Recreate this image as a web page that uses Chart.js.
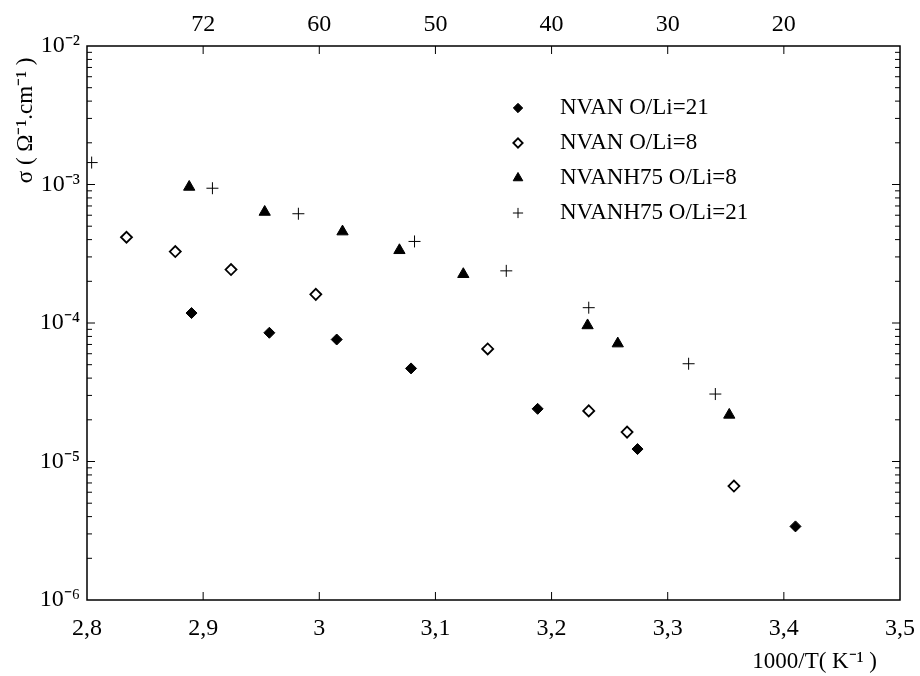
<!DOCTYPE html>
<html>
<head>
<meta charset="utf-8">
<script src="https://cdn.jsdelivr.net/npm/chart.js@4/dist/chart.umd.min.js"></script>
<style>
  body { margin: 0; background: #fff; }
  #wrap { width: 920px; height: 676px; }
</style>
</head>
<body>
<div id="wrap"><canvas id="chart"></canvas></div>
<script>
// Data (x = 1000/T in K^-1, y = conductivity in S/cm)
const nvan21X = [2.890, 2.957, 3.015, 3.079, 3.188, 3.274, 3.410];
const nvan21Y = [1.18e-4, 8.5e-5, 7.6e-5, 4.7e-5, 2.4e-5, 1.23e-5, 3.4e-6];

const nvan8X = [2.834, 2.876, 2.924, 2.997, 3.145, 3.232, 3.265, 3.357];
const nvan8Y = [4.16e-4, 3.28e-4, 2.43e-4, 1.61e-4, 6.5e-5, 2.32e-5, 1.63e-5, 6.65e-6];

const nvanh8X = [2.888, 2.953, 3.020, 3.069, 3.124, 3.231, 3.257, 3.353];
const nvanh8Y = [9.6e-4, 6.33e-4, 4.57e-4, 3.35e-4, 2.25e-4, 9.6e-5, 7.1e-5, 2.17e-5];

const nvanh21X = [2.804, 2.908, 2.982, 3.082, 3.161, 3.232, 3.318, 3.341];
const nvanh21Y = [1.44e-3, 9.4e-4, 6.15e-4, 3.88e-4, 2.38e-4, 1.29e-4, 5.08e-5, 3.07e-5];

const seriesNames = ['NVAN O/Li=21', 'NVAN O/Li=8', 'NVANH75 O/Li=8', 'NVANH75 O/Li=21'];

// Axis ticks
const yDecades = [-6, -5, -4, -3, -2];
const yTickLabels = ['10\u207B\u2076', '10\u207B\u2075', '10\u207B\u2074', '10\u207B\u00B3', '10\u207B\u00B2'];
const yMinorSteps = [2, 3, 4, 5, 6, 7, 8, 9];
const topTickPos = [2.9, 3.0, 3.1, 3.2, 3.3, 3.4];
const topTickLabels = ['72', '60', '50', '40', '30', '20'];

const toPoints = (xs, ys) => xs.map((x, i) => ({ x: x, y: ys[i] }));

Chart.defaults.font.family = '"Liberation Serif", "Times New Roman", serif';
Chart.defaults.color = '#000';

// frame + inward tick marks
const frameTicks = {
    id: 'frameTicks',
    afterDraw(chart) {
        const ctx = chart.ctx;
        const a = chart.chartArea;
        const xs = chart.scales.x;
        const ys = chart.scales.y;
        ctx.save();
        ctx.strokeStyle = '#000';
        ctx.lineWidth = 1.5;
        ctx.strokeRect(a.left, a.top, a.right - a.left, a.bottom - a.top);
        ctx.lineWidth = 1;
        ctx.beginPath();
        xs.ticks.forEach(t => {
            const px = xs.getPixelForValue(t.value);
            if (px <= a.left + 1 || px >= a.right - 1) return;
            ctx.moveTo(px, a.bottom);
            ctx.lineTo(px, a.bottom - 8);
        });
        topTickPos.forEach(v => {
            const px = xs.getPixelForValue(v);
            ctx.moveTo(px, a.top);
            ctx.lineTo(px, a.top + 8);
        });
        ys.ticks.forEach(t => {
            const py = ys.getPixelForValue(t.value);
            if (py <= a.top + 1 || py >= a.bottom - 1) return;
            const len = t.major ? 8 : 5;
            ctx.moveTo(a.left, py);
            ctx.lineTo(a.left + len, py);
            ctx.moveTo(a.right, py);
            ctx.lineTo(a.right - len, py);
        });
        ctx.stroke();
        ctx.restore();
    }
};

// legend inside the plot, upper right
const innerLegend = {
    id: 'innerLegend',
    afterDraw(chart) {
        const ctx = chart.ctx;
        const a = chart.chartArea;
        const markerX = a.left + 431;
        const textX = a.left + 473;
        ctx.save();
        ctx.font = '23px "Liberation Serif", "Times New Roman", serif';
        ctx.textBaseline = 'middle';
        ctx.textAlign = 'left';
        chart.data.datasets.forEach((ds, i) => {
            const y = a.top + 62 + i * 35;
            ctx.fillStyle = ds.backgroundColor;
            ctx.strokeStyle = ds.borderColor;
            ctx.lineWidth = ds.borderWidth;
            Chart.helpers.drawPoint(ctx, {
                pointStyle: ds.pointStyle,
                radius: ds.pointRadius * 0.85,
                borderWidth: ds.borderWidth,
                rotation: 0
            }, markerX, y);
            ctx.fillStyle = '#000';
            ctx.fillText(ds.label, textX, y);
        });
        ctx.restore();
    }
};

new Chart(document.getElementById('chart'), {
    type: 'scatter',
    data: {
        datasets: [
            {
                label: seriesNames[0],
                data: toPoints(nvan21X, nvan21Y),
                pointStyle: 'rectRot',
                pointRadius: 5.5,
                backgroundColor: '#000',
                borderColor: '#000',
                borderWidth: 1
            },
            {
                label: seriesNames[1],
                data: toPoints(nvan8X, nvan8Y),
                pointStyle: 'rectRot',
                pointRadius: 5.5,
                backgroundColor: '#fff',
                borderColor: '#000',
                borderWidth: 1.8
            },
            {
                label: seriesNames[2],
                data: toPoints(nvanh8X, nvanh8Y),
                pointStyle: 'triangle',
                pointRadius: 6.5,
                backgroundColor: '#000',
                borderColor: '#000',
                borderWidth: 1
            },
            {
                label: seriesNames[3],
                data: toPoints(nvanh21X, nvanh21Y),
                pointStyle: 'cross',
                pointRadius: 6,
                backgroundColor: '#000',
                borderColor: '#000',
                borderWidth: 1
            }
        ]
    },
    options: {
        responsive: true,
        maintainAspectRatio: false,
        animation: false,
        events: [],
        layout: { padding: { left: 0, right: 20, top: 0, bottom: 0 } },
        plugins: {
            legend: { display: false },
            tooltip: { enabled: false }
        },
        scales: {
            x: {
                type: 'linear',
                position: 'bottom',
                min: 2.8,
                max: 3.5,
                grid: { display: false, drawTicks: false },
                border: { display: false },
                ticks: {
                    stepSize: 0.1,
                    autoSkip: false,
                    maxRotation: 0,
                    padding: 14,
                    font: { size: 24 },
                    callback: v => parseFloat(v.toFixed(1)).toString().replace('.', ',')
                },
                title: {
                    display: true,
                    text: '1000/T( K\u207B\u00B9 )\u00A0\u00A0\u00A0\u00A0',
                    align: 'end',
                    font: { size: 23 },
                    padding: { top: 4, bottom: 0 }
                },
                afterFit: s => { s.height = 76; s.paddingLeft = 0; s.paddingRight = 0; }
            },
            xTop: {
                type: 'linear',
                position: 'top',
                min: 2.8,
                max: 3.5,
                grid: { display: false, drawTicks: false },
                border: { display: false },
                ticks: {
                    stepSize: 0.1,
                    autoSkip: false,
                    maxRotation: 0,
                    padding: 7,
                    font: { size: 24 },
                    callback: v => {
                        const i = topTickPos.findIndex(p => Math.abs(p - v) < 1e-6);
                        return i >= 0 ? topTickLabels[i] : '';
                    }
                },
                afterFit: s => { s.height = 46; s.paddingLeft = 0; s.paddingRight = 0; }
            },
            y: {
                type: 'logarithmic',
                min: 1e-6,
                max: 1e-2,
                grid: { display: false, drawTicks: false },
                border: { display: false },
                afterBuildTicks: s => {
                    const ticks = [];
                    yDecades.forEach(d => {
                        ticks.push({ value: Math.pow(10, d), major: true });
                        if (d < -2) {
                            yMinorSteps.forEach(m => ticks.push({ value: m * Math.pow(10, d), major: false }));
                        }
                    });
                    s.ticks = ticks;
                },
                ticks: {
                    autoSkip: false,
                    padding: 7,
                    font: { size: 24 },
                    callback: (v) => {
                        const i = yDecades.findIndex(d => Math.abs(Math.log10(v) - d) < 1e-6);
                        return i >= 0 ? yTickLabels[i] : '';
                    }
                },
                title: {
                    display: true,
                    text: 'σ ( Ω\u207B\u00B9.cm\u207B\u00B9 )\u00A0\u00A0',
                    align: 'end',
                    font: { size: 23 },
                    padding: { top: 12, bottom: 0 }
                },
                afterFit: s => { s.width = 87; s.paddingTop = 0; s.paddingBottom = 0; }
            }
        }
    },
    plugins: [frameTicks, innerLegend]
});
</script>
</body>
</html>
